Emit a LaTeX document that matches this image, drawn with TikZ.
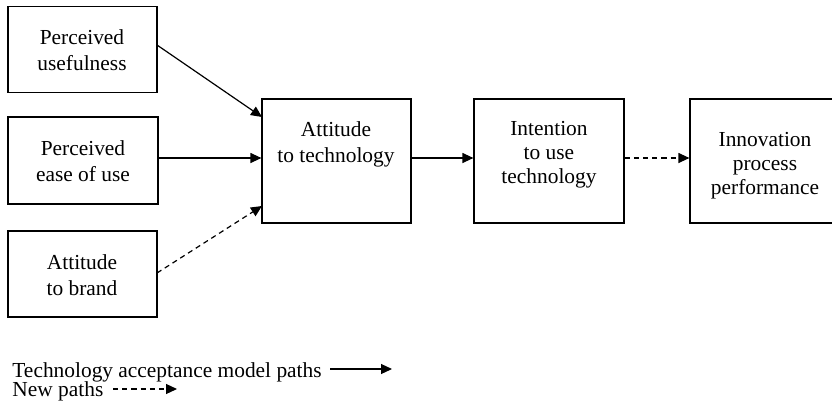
\documentclass[tikz,border=0pt]{standalone}
\usepackage{fontspec}
\setmainfont{Liberation Serif}
\usetikzlibrary{arrows.meta}
\begin{document}
\begin{tikzpicture}[x=0.5pt,y=-0.5pt,
  box/.style={draw, line width=0.6pt, inner sep=0pt},
  txt/.style={align=center, font=\fontsize{10.7}{13}\selectfont, inner sep=0pt},
  leg/.style={font=\fontsize{10.7}{9.5}\selectfont, inner sep=0pt, anchor=base west},
  conn/.style={line width=0.6pt, -{Triangle[length=5.5pt,width=5pt]}},
  newconn/.style={conn, dash pattern=on 2.6pt off 2pt}
]
\clip (0,0) rectangle (832,402);
% boxes
\node[box, minimum width=149*0.5pt, minimum height=86*0.5pt] (pu) at (82.5,49.5) {};
\node[box, minimum width=150*0.5pt, minimum height=87*0.5pt] (peu) at (83,160.5) {};
\node[box, minimum width=149*0.5pt, minimum height=86*0.5pt] (ab) at (82.5,274) {};
\node[box, minimum width=149*0.5pt, minimum height=124*0.5pt] (at) at (336.5,161) {};
\node[box, minimum width=150*0.5pt, minimum height=124*0.5pt] (int) at (549,161) {};
\node[box, minimum width=160*0.5pt, minimum height=124*0.5pt] (inn) at (770,161) {};
% texts
\node[txt] (tpu) at (82,50) {Perceived\\usefulness};
\node[txt] (tpeu) at (83,161) {Perceived\\ease of use};
\node[txt] (tab) at (82,275) {Attitude\\to brand};
\node[txt] (tat) at (336,144) {Attitude\\to technology};
\node[txt, font=\fontsize{10.7}{12}\selectfont] (tint) at (549,155) {Intention\\to use\\technology};
\node[txt, font=\fontsize{10.7}{12}\selectfont] (tinn) at (765,166) {Innovation\\process\\performance};
% connectors
\coordinate (pu1) at (157,45);
\coordinate (at1) at (262,117);
\coordinate (ab1) at (157,273);
\coordinate (at3) at (262,206);
\draw[conn] (pu1) -- (at1);
\draw[conn] (peu.east |- 0,158) -- (at.west |- 0,158);
\draw[newconn] (ab1) -- (at3);
\draw[conn] (at.east |- 0,158) -- (int.west |- 0,158);
\draw[newconn] (int.east |- 0,158) -- (inn.west |- 0,158);
% legend
\node[leg] (l1) at (12,377) {Technology acceptance model paths};
\node[leg] (l2) at (12,396) {New paths};
\coordinate (l1a) at (330,369);
\coordinate (l1b) at (392,369);
\coordinate (l2a) at (113,389);
\coordinate (l2b) at (177,389);
\draw[conn] (l1a) -- (l1b);
\draw[newconn] (l2a) -- (l2b);
\end{tikzpicture}
\end{document}
